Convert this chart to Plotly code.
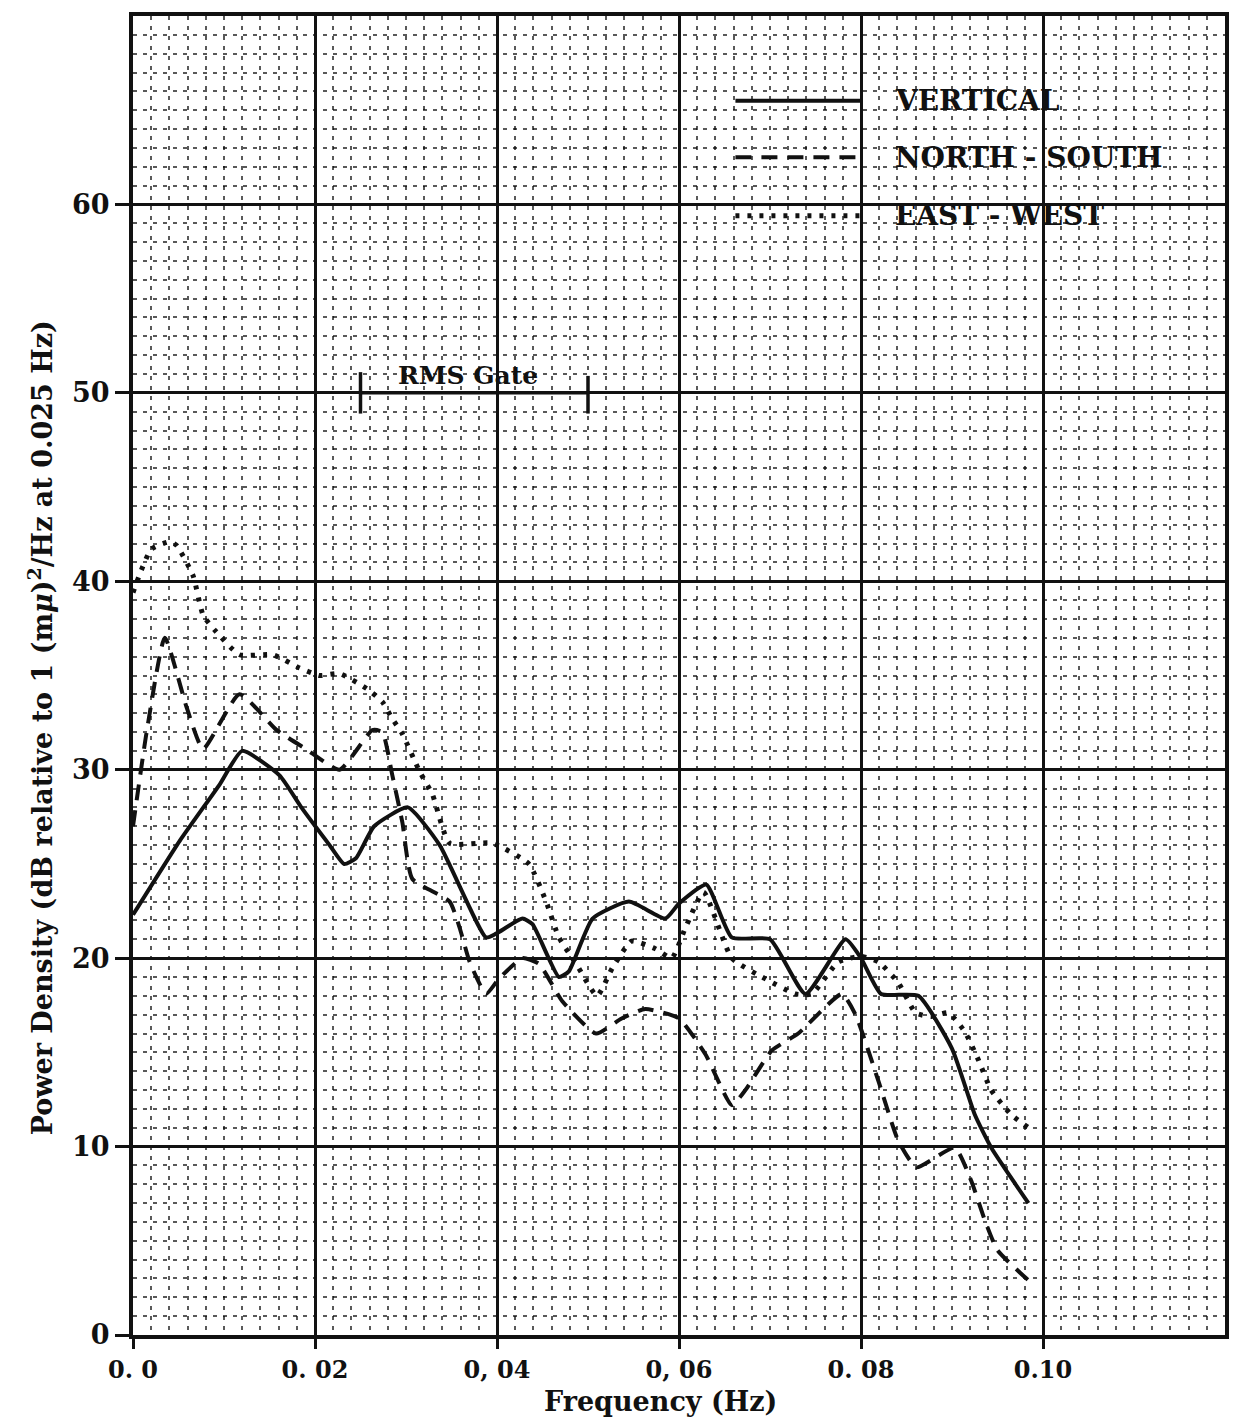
import plotly.graph_objects as go

# ---------------- data ----------------
vert_x = [0.0, 0.0051, 0.0095, 0.012, 0.0161, 0.0185, 0.0216, 0.0232, 0.0245, 0.0265,
          0.0302, 0.0337, 0.0388, 0.0399, 0.0428, 0.0439, 0.0468, 0.0479, 0.0505, 0.0545,
          0.0585, 0.060, 0.063, 0.0658, 0.070, 0.0739, 0.0783, 0.080, 0.0822, 0.0863,
          0.090, 0.0925, 0.0943, 0.0984]
vert_y = [22.3, 26.2, 29.2, 31.0, 29.7, 28.0, 26.0, 25.0, 25.3, 27.0,
          28.0, 26.0, 21.1, 21.3, 22.1, 21.8, 19.0, 19.3, 22.1, 23.0,
          22.1, 22.9, 23.9, 21.1, 21.0, 18.1, 21.0, 20.0, 18.1, 18.0,
          15.2, 11.7, 9.95, 7.0]

ns_x = [0.0, 0.0015, 0.0035, 0.0059, 0.0077, 0.0117, 0.0158, 0.019, 0.0227, 0.0263,
        0.0274, 0.0285, 0.0296, 0.0307, 0.0348, 0.0359, 0.037, 0.0388, 0.0402, 0.0428,
        0.0446, 0.0472, 0.0509, 0.0537, 0.0563, 0.060, 0.0629, 0.0658, 0.0673, 0.0702,
        0.0731, 0.0779, 0.0794, 0.0819, 0.0841, 0.0861, 0.0903, 0.0921, 0.0936, 0.095,
        0.0984]
ns_y = [27.0, 32.0, 37.0, 33.3, 31.1, 34.0, 32.1, 31.1, 30.0, 32.1,
        32.0, 29.7, 27.2, 24.2, 23.0, 21.6, 19.8, 18.1, 18.9, 20.0,
        19.7, 17.7, 16.0, 16.8, 17.3, 16.8, 14.9, 12.2, 13.0, 15.1,
        16.0, 18.1, 17.0, 13.5, 10.3, 8.9, 9.95, 8.2, 6.1, 4.5,
        2.9]

ew_x = [0.0, 0.002, 0.004, 0.0048, 0.0066, 0.0077, 0.009, 0.0117, 0.0154, 0.0183,
        0.0205, 0.0227, 0.0257, 0.0274, 0.0285, 0.0296, 0.0315, 0.0329, 0.0348, 0.0395,
        0.0435, 0.0454, 0.0468, 0.0487, 0.051, 0.0527, 0.0548, 0.0574, 0.0592, 0.0607,
        0.0627, 0.0658, 0.0695, 0.0728, 0.0746, 0.0775, 0.080, 0.0819, 0.0841, 0.086,
        0.0877, 0.0896, 0.0914, 0.0929, 0.0943, 0.0965, 0.0984]
ew_y = [39.4, 41.7, 42.1, 41.9, 40.3, 38.2, 37.4, 36.1, 36.1, 35.4,
        35.0, 35.1, 34.3, 33.6, 32.7, 31.9, 29.9, 28.7, 26.1, 26.1,
        25.0, 23.0, 21.1, 19.7, 18.0, 19.5, 20.9, 20.5, 20.0, 21.6,
        23.5, 20.0, 18.9, 18.1, 18.1, 19.8, 20.1, 19.8, 18.7, 17.1,
        16.9, 17.1, 16.1, 14.6, 13.0, 11.7, 11.0]

x_tickvals = [0.0, 0.02, 0.04, 0.06, 0.08, 0.10]
x_ticktext = ["0. 0", "0. 02", "0, 04", "0, 06", "0. 08", "0.10"]
y_tickvals = [0, 10, 20, 30, 40, 50, 60]
y_ticktext = ["0", "10", "20", "30", "40", "50", "60"]

series_names = ["VERTICAL", "NORTH - SOUTH", "EAST - WEST"]
rms_gate = [0.025, 0.050]

FONT = "DejaVu Serif"
BLACK = "#111111"

fig = go.Figure()
fig.add_trace(go.Scatter(x=vert_x, y=vert_y, mode="lines", name=series_names[0],
                         line=dict(color=BLACK, width=4, shape="spline", smoothing=0.5)))
fig.add_trace(go.Scatter(x=ns_x, y=ns_y, mode="lines", name=series_names[1],
                         line=dict(color=BLACK, width=4, dash="16px,10px",
                                   shape="spline", smoothing=0.5)))
fig.add_trace(go.Scatter(x=ew_x, y=ew_y, mode="lines", name=series_names[2],
                         line=dict(color=BLACK, width=5, dash="4px,8px",
                                   shape="spline", smoothing=0.5)))

# legend drawn inside the plot like the original
legend_styles = [("solid", 4), ("16px,10px", 4), ("4px,8px", 5)]
legend_y = [65.5, 62.5, 59.4]
shapes = []
annotations = []
for name, (dash, w), ly in zip(series_names, legend_styles, legend_y):
    shapes.append(dict(type="line", xref="x", yref="y", x0=0.0662, x1=0.0800, y0=ly, y1=ly,
                       line=dict(color=BLACK, width=w, dash=dash)))
    annotations.append(dict(x=0.0835, y=ly, xref="x", yref="y", text="<b>%s</b>" % name,
                            showarrow=False, xanchor="left", yanchor="middle",
                            font=dict(family=FONT, size=28, color=BLACK)))

# RMS gate marker
shapes.append(dict(type="line", xref="x", yref="y", x0=rms_gate[0], x1=rms_gate[1], y0=50, y1=50,
                   line=dict(color=BLACK, width=3.5)))
shapes.append(dict(type="line", xref="x", yref="y", x0=rms_gate[0], x1=rms_gate[0], y0=48.9, y1=51.1,
                   line=dict(color=BLACK, width=3.5)))
shapes.append(dict(type="line", xref="x", yref="y", x0=rms_gate[1], x1=rms_gate[1], y0=48.9, y1=50.9,
                   line=dict(color=BLACK, width=3.5)))
annotations.append(dict(x=(rms_gate[0] + rms_gate[1]) / 2 - 0.0007, y=50.05, xref="x", yref="y",
                        text="<b>RMS Gate</b>", showarrow=False, yanchor="bottom",
                        font=dict(family=FONT, size=25, color=BLACK)))

# axis titles
annotations.append(dict(x=0.058, y=0, xref="x", yref="paper", yshift=-66,
                        text="<b>Frequency (Hz)</b>", showarrow=False, yanchor="middle",
                        font=dict(family=FONT, size=27, color=BLACK)))
annotations.append(dict(x=0, y=0.46, xref="paper", yref="paper", xshift=-93,
                        text="<b>Power Density (dB relative to 1 (m<i>\u03bc</i>)<sup>2</sup>/Hz at 0.025 Hz)</b>",
                        showarrow=False, textangle=-90, xanchor="center", yanchor="middle",
                        font=dict(family=FONT, size=27, color=BLACK)))

fig.update_layout(
    width=1241, height=1421,
    margin=dict(l=133, r=16, t=12, b=86),
    paper_bgcolor="white", plot_bgcolor="white",
    showlegend=False,
    shapes=shapes, annotations=annotations,
    font=dict(family=FONT, color=BLACK),
)

fig.update_xaxes(
    range=[0, 0.12], tickvals=x_tickvals, ticktext=["<b>%s</b>" % t for t in x_ticktext],
    tickfont=dict(family=FONT, size=24, color=BLACK),
    ticks="outside", ticklen=10, tickwidth=3, tickcolor=BLACK,
    showgrid=True, gridcolor=BLACK, gridwidth=2.5,
    showline=True, linecolor=BLACK, linewidth=4, mirror=True,
    zeroline=False,
    minor=dict(dtick=0.002, tick0=0, showgrid=True, gridcolor="rgba(0,0,0,0.65)",
               gridwidth=1.5, griddash="4px,6px", ticks=""),
)
fig.update_yaxes(
    range=[0, 70], tickvals=y_tickvals, ticktext=["<b>%s</b>" % t for t in y_ticktext],
    tickfont=dict(family=FONT, size=27, color=BLACK),
    ticks="outside", ticklen=14, tickwidth=3, tickcolor=BLACK,
    showgrid=True, gridcolor=BLACK, gridwidth=2.5,
    showline=True, linecolor=BLACK, linewidth=4, mirror=True,
    zeroline=False,
    minor=dict(dtick=1, tick0=0, showgrid=True, gridcolor="rgba(0,0,0,0.65)",
               gridwidth=1.5, griddash="4px,6px", ticks=""),
)

fig.write_html("out.html")
